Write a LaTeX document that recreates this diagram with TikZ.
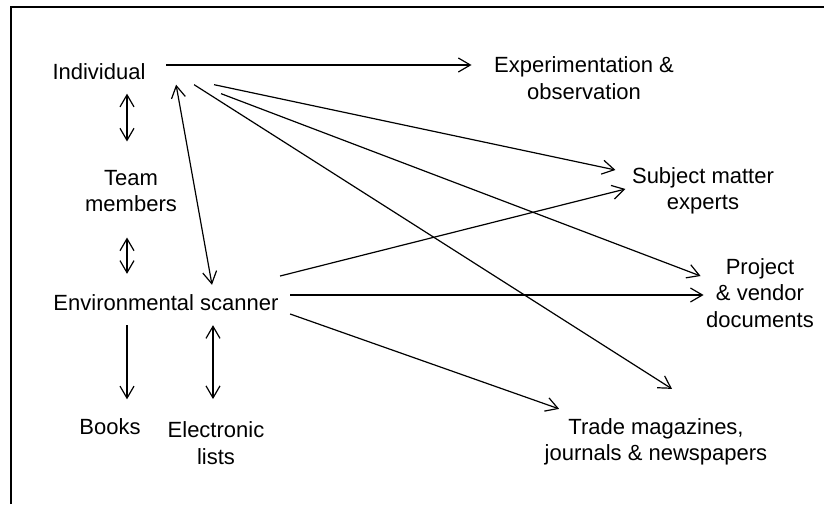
\documentclass[tikz,border=0pt]{standalone}
\usepackage{fontspec}
\setmainfont{Liberation Sans}
\usetikzlibrary{arrows.meta}

\begin{document}
\begin{tikzpicture}[x=1pt, y=1pt, line width=1.2pt,
  >={Straight Barb[length=12pt,width=14pt]},
  every node/.style={inner sep=0pt, align=center, font=\fontsize{22}{26.5}\selectfont}]
\useasboundingbox (0,0) rectangle (824,504);
\draw[line width=1.6pt] (11,0) -- (11,497) -- (824,497);
% Sources on the left:
\node (ind) at (99,432) {Individual};
\node (team) at (131,313) {Team\\members};
\node (env) at (166,201.5) {Environmental scanner};
\node (books) at (110,77) {Books};
\node (elec) at (216,61) {Electronic\\lists};
% Sources on the right:
\node (exp) at (584,426) {Experimentation \&\\observation};
\node (sme) at (703,313) {Subject matter\\experts};
\node (proj) at (760,211) {Project\\\& vendor\\documents};
\node (trade) at (656,62) {Trade magazines,\\journals \& newspapers};
% From the individual:
\draw[->] ([shift={(20,7)}]ind.east) -- ([shift={(-22,13)}]exp.west);
\draw[<->] ([shift={(28,-13)}]ind.south) -- ([shift={(-4,28)}]team.north);
\draw[<->] ([shift={(30,-4)}]ind.south east) -- ([shift={(46,9)}]env.north);
\draw[->] ([shift={(48,-4)}]ind.south east) -- ([shift={(16,29)}]trade.north);
\draw[->] ([shift={(68,-4)}]ind.south east) -- ([shift={(-16,21)}]sme.west);
\draw[->] ([shift={(75,-13)}]ind.south east) -- ([shift={(-5,17)}]proj.west);
% From the team and the scanner:
\draw[<->] ([shift={(-4,-25)}]team.south) -- ([shift={(-39,20)}]env.north);
\draw[->] ([shift={(1,26.5)}]env.east) -- ([shift={(-6,2)}]sme.west);
\draw[->] ([shift={(11,7.5)}]env.east) -- ([shift={(-2,-2)}]proj.west);
\draw[->] ([shift={(11,-11.5)}]env.east) -- ([shift={(15,9)}]trade.north west);
\draw[->] ([shift={(-39,-14)}]env.south) -- ([shift={(17,19)}]books.north);
\draw[<->] ([shift={(47,-14)}]env.south) -- ([shift={(-3,22)}]elec.north);
\end{tikzpicture}
\end{document}
